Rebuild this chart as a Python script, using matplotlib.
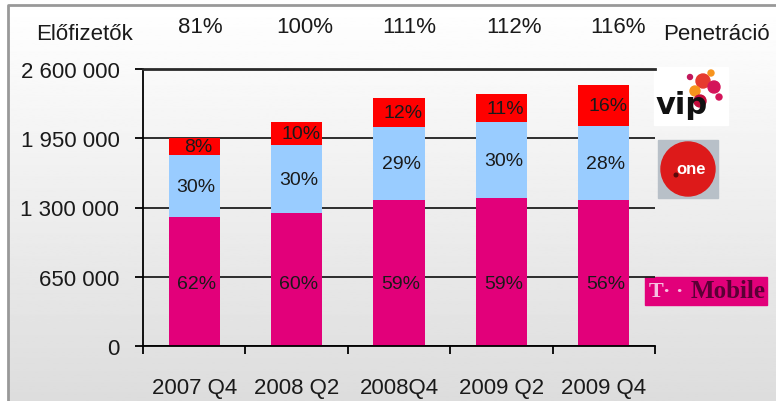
import numpy as np
import matplotlib
matplotlib.use("Agg")
import matplotlib.pyplot as plt
from matplotlib.patches import Rectangle, Circle

plt.rcParams["font.family"] = ["Liberation Sans", "DejaVu Sans"]

categories = ["2007 Q4", "2008 Q2", "2008Q4", "2009 Q2", "2009 Q4"]
tmobile = [1210000, 1248000, 1369000, 1388000, 1369000]
one = [582000, 637000, 685000, 713000, 695000]
vip = [159000, 216000, 272000, 263000, 384000]
tmobile_pct = ["62%", "60%", "59%", "59%", "56%"]
one_pct = ["30%", "30%", "29%", "30%", "28%"]
vip_pct = ["8%", "10%", "12%", "11%", "16%"]
penetration = ["81%", "100%", "111%", "112%", "116%"]
yticks = [0, 650000, 1300000, 1950000, 2600000]
ytick_labels = ["0", "650 000", "1 300 000", "1 950 000", "2 600 000"]

W, H = 776, 402
txt = "#1a1a1a"
pink = "#e2007a"
blue = "#99ccff"
red = "#ff0000"

fig = plt.figure(figsize=(W / 100, H / 100), dpi=100)

# background in pixel coordinates (gradient, frame, logos)
bg = fig.add_axes([0, 0, 1, 1], zorder=0)
bg.set_xlim(0, W)
bg.set_ylim(H, 0)
bg.axis("off")
grad = np.linspace(1.0, 0.865, 256).reshape(-1, 1)
bg.imshow(grad, cmap="gray", vmin=0, vmax=1, extent=[8, W, H, 6], aspect="auto")
bg.plot([8, 8, W], [H, 6, 6], color="#999999", lw=2)

# vip logo
bg.add_patch(Rectangle((654, 68), 74, 58, color="white"))
bg.text(656, 106, "vip", fontsize=22, fontweight="bold", color="#111111",
        va="center", ha="left", family="DejaVu Sans")
for cx, cy, r, c in [(703, 82, 7, "#e63a2e"), (714, 88, 6, "#d4145a"),
                     (695, 92, 5, "#f7941d"), (711, 74, 3, "#f7941d"),
                     (690, 78, 2.5, "#c2185b"), (719, 98, 3, "#d4145a"),
                     (700, 102, 6, "#c40c3c")]:
    bg.add_patch(Circle((cx, cy), r, color=c))

# one logo
bg.add_patch(Rectangle((658, 141), 60, 58, color="#b8c0c8"))
bg.add_patch(Circle((688, 170), 27, color="#dd1a1a"))
bg.text(691, 170, "one", fontsize=12, fontweight="bold", color="white",
        va="center", ha="center")
bg.add_patch(Circle((676, 176), 1.8, color="#5a0a0a"))

# T-Mobile logo
bg.add_patch(Rectangle((645, 278), 122, 28, color=pink))
bg.text(649, 292, "T", fontsize=16, color="#f6c0e0", va="center", ha="left",
        family="Liberation Serif", fontweight="bold")
bg.text(663, 292, "\u00b7 \u00b7", fontsize=16, color="#f6c0e0", va="center",
        ha="left", family="Liberation Serif", fontweight="bold")
bg.text(766, 292, "Mobile", fontsize=18, color="#5a0035", va="center",
        ha="right", family="Liberation Serif", fontweight="bold")

# main chart
ax = fig.add_axes([143 / W, 1 - 347 / H, 512 / W, 277 / H], zorder=1)
ax.patch.set_alpha(0)
x = np.arange(len(categories))
w = 0.5
ax.bar(x, tmobile, w, color=pink, zorder=2)
ax.bar(x, one, w, bottom=tmobile, color=blue, zorder=2)
bottom3 = np.array(tmobile) + np.array(one)
ax.bar(x, vip, w, bottom=bottom3, color=red, zorder=2)

ax.set_xlim(-0.5, len(categories) - 0.5)
ax.set_ylim(0, 2600000)
ax.set_yticks(yticks)
ax.set_yticklabels(ytick_labels)
ax.set_xticks(x)
ax.set_xticklabels(categories)
ax.set_xticks(np.arange(len(categories) + 1) - 0.5, minor=True)
ax.tick_params(axis="x", which="major", length=0, pad=22, labelsize=16, labelcolor=txt)
ax.tick_params(axis="x", which="minor", length=6, width=1.3, direction="out")
ax.tick_params(axis="y", length=6, width=1.3, pad=11, labelsize=16, labelcolor=txt)
ax.grid(axis="y", color="#1e1e1e", lw=1.3, zorder=0)
ax.set_axisbelow(True)
ax.spines["right"].set_visible(False)
ax.spines["top"].set_linewidth(2)
ax.spines["top"].set_color("#2a2a2a")
for s in ("left", "bottom"):
    ax.spines[s].set_linewidth(1.3)

# segment labels
PINK_LABEL_Y = 585000
for i in x:
    ax.text(i + 0.02, PINK_LABEL_Y, tmobile_pct[i], ha="center", va="center",
            fontsize=14, color=txt, zorder=3)
    ax.text(i + 0.02, tmobile[i] + one[i] / 2, one_pct[i], ha="center", va="center",
            fontsize=14, color=txt, zorder=3)
    ax.text(i + 0.04, bottom3[i] + vip[i] / 2, vip_pct[i], ha="center", va="center",
            fontsize=14, color=txt, zorder=3)

# header row
fig.text(85 / W, 1 - 34 / H, "Előfizetők", ha="center", va="center",
         fontsize=16, color=txt)
for i in x:
    ax.text(i + 0.06 + 0.02 * i, 1.155, penetration[i], transform=ax.get_xaxis_transform(),
            ha="center", va="center", fontsize=16, color=txt, clip_on=False)
fig.text(663 / W, 1 - 34 / H, "Penetráció", ha="left", va="center",
         fontsize=16, color=txt)

fig.savefig("out.png", dpi=100)
